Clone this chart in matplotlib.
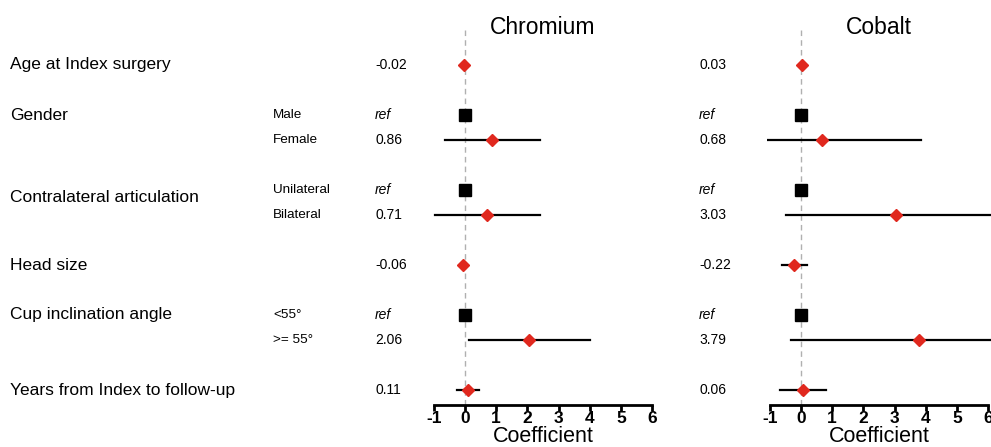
import numpy as np
import matplotlib
matplotlib.use("Agg")
import matplotlib.pyplot as plt
from matplotlib.transforms import blended_transform_factory

plt.rcParams['font.family'] = ['Liberation Sans', 'DejaVu Sans']
plt.rcParams['axes.unicode_minus'] = False

# data
main_labels = ["Age at Index surgery", "Gender", "Contralateral articulation",
               "Head size", "Cup inclination angle", "Years from Index to follow-up"]
main_pos = [0, 2, 5.3, 8, 10, 13]
sub_labels = ["", "Male", "Female", "Unilateral", "Bilateral", "", "<55°", ">= 55°", ""]
row_pos = [0, 2, 3, 5, 6, 8, 10, 11, 13]
is_ref = [False, True, False, True, False, False, True, False, False]

nan = np.nan
cr_coef = [-0.02, 0, 0.86, 0, 0.71, -0.06, 0, 2.06, 0.11]
cr_lo = [nan, nan, -0.64, nan, -0.95, nan, nan, 0.12, -0.27]
cr_hi = [nan, nan, 2.39, nan, 2.39, nan, nan, 4.02, 0.46]
cr_txt = ["-0.02", "ref", "0.86", "ref", "0.71", "-0.06", "ref", "2.06", "0.11"]

co_coef = [0.03, 0, 0.68, 0, 3.03, -0.22, 0, 3.79, 0.06]
co_lo = [nan, nan, -1.28, nan, -0.48, -0.62, nan, -0.31, -0.67]
co_hi = [nan, nan, 3.85, nan, 6.6, 0.18, nan, 6.6, 0.80]
co_txt = ["0.03", "ref", "0.68", "ref", "3.03", "-0.22", "ref", "3.79", "0.06"]

W, H = 991, 447
fig = plt.figure(figsize=(W / 100, H / 100), dpi=100)

ybot, ytop = 1 - 405 / H, 1 - 27 / H
ax1 = fig.add_axes([430.7 / W, ybot, 224.6 / W, ytop - ybot])
ax2 = fig.add_axes([766.7 / W, ybot, 224.6 / W, ytop - ybot])


def forest(ax, coef, lo, hi, txt, txt_x, title):
    ax.set_xlim(-1.1, 6.1)
    ax.set_ylim(13.6, -1.52)
    ax.axvline(0, color='#b0b0b0', lw=1, ls=(0, (4, 3)), zorder=0)
    for i in range(len(row_pos)):
        y = row_pos[i]
        if not np.isnan(lo[i]):
            ax.plot([lo[i], hi[i]], [y, y], color='black', lw=1.6, zorder=1)
        if is_ref[i]:
            ax.plot(coef[i], y, marker='s', ms=8.4, color='black', zorder=2)
        else:
            ax.plot(coef[i], y, marker='D', ms=6.2, color='#e0281e', zorder=2)
    for s in ['top', 'right', 'left']:
        ax.spines[s].set_visible(False)
    ax.spines['bottom'].set_linewidth(2)
    ax.spines['bottom'].set_bounds(-1, 6)
    ax.set_yticks([])
    ax.set_xticks(range(-1, 7))
    ax.tick_params(axis='x', length=4, width=2, pad=0, labelsize=12.5)
    for t in ax.get_xticklabels():
        t.set_fontweight('bold')
    tr = blended_transform_factory(fig.transFigure, ax.transData)
    for i in range(len(row_pos)):
        fig.text(txt_x / W, row_pos[i], txt[i], transform=tr, fontsize=10,
                 va='center', ha='left', style='italic' if is_ref[i] else 'normal')
    cx = (ax.get_position().x0 + ax.get_position().x1) / 2
    fig.text(cx, 1 - 27 / H, title, fontsize=16.5, ha='center', va='center')
    fig.text(cx, 1 - 437 / H, "Coefficient", fontsize=15.5, ha='center', va='center')


forest(ax1, cr_coef, cr_lo, cr_hi, cr_txt, 375, "Chromium")
forest(ax2, co_coef, co_lo, co_hi, co_txt, 699, "Cobalt")

tr = blended_transform_factory(fig.transFigure, ax1.transData)
for lab, y in zip(main_labels, main_pos):
    fig.text(10 / W, y, lab, transform=tr, fontsize=12.5, va='center', ha='left')
for lab, y in zip(sub_labels, row_pos):
    if lab:
        fig.text(273 / W, y, lab, transform=tr, fontsize=9.7, va='center', ha='left')

fig.savefig("out.png", dpi=100)
